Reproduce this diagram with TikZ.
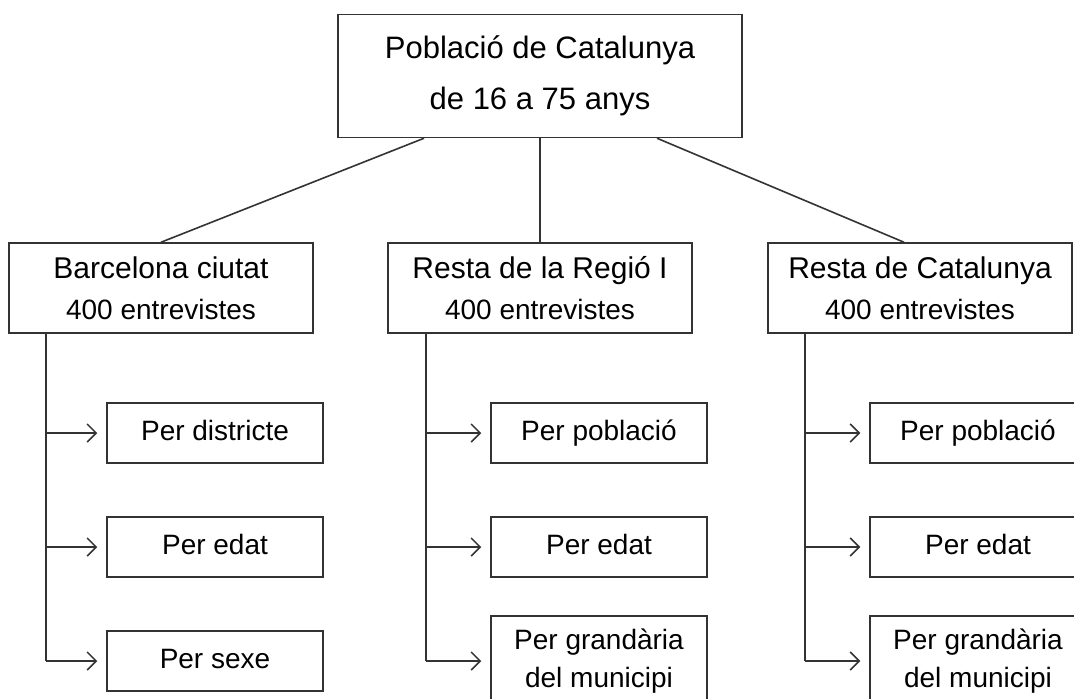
\documentclass[tikz,border=0pt]{standalone}
\usepackage{fontspec}
\setmainfont{Liberation Sans}
\usetikzlibrary{calc,arrows.meta}

\tikzset{
	box/.style={draw=black!80, line width=1.5pt, align=center, inner sep=0pt},
	topbox/.style={box, minimum width=404pt, minimum height=123pt, font=\fontsize{31}{51}\selectfont},
	zonebox/.style={box, minimum width=304pt, minimum height=90pt, font=\fontsize{30}{41}\selectfont},
	subbox/.style={box, minimum width=216pt, minimum height=60pt, font=\fontsize{28}{38}\selectfont},
	onebox/.style={subbox, text height=21pt, text depth=7pt},
	link/.style={draw=black!80, line width=1.6pt},
	branch/.style={link, -{Straight Barb[length=9pt,width=18pt,line width=1.5pt]}, shorten >=9pt}
}

\begin{document}
\begin{tikzpicture}[x=1pt,y=-1pt]
		%%%%% START %%%%%
		
		\useasboundingbox (0, 0) rectangle (1074, 699);
		\clip (0, 0) rectangle (1074, 699);
		
		\node[topbox] (top) at (540, 76) {Població de Catalunya\\de 16 a 75 anys};
		
		\node[zonebox] (bcn) at (161, 288) {Barcelona ciutat\\{\fontsize{28}{34}\selectfont 400 entrevistes}};
		\node[zonebox] (reg) at (540, 288) {Resta de la Regió I\\{\fontsize{28}{34}\selectfont 400 entrevistes}};
		\node[zonebox] (cat) at (920, 288) {Resta de Catalunya\\{\fontsize{28}{34}\selectfont 400 entrevistes}};
		
		\draw[link] ($(top.south)+(-116, 0)$) -- (bcn.north);
		\draw[link] (top.south) -- (reg.north);
		\draw[link] ($(top.south)+(117, 0)$) -- ($(cat.north)+(-16, 0)$);
		
		% Barcelona ciutat
		\node[onebox] (bcn1) at (215, 433) {Per districte};
		\node[onebox] (bcn2) at (215, 547) {Per edat};
		\node[onebox] (bcn3) at (215, 661) {Per sexe};
		\coordinate (bcnt) at ($(bcn.south west)+(38, 0)$);
		\draw[link] (bcnt) -- (bcnt |- bcn3.west);
		\foreach \k in {1,2,3}
			\draw[branch] (bcnt |- bcn\k.west) -- (bcn\k.west);
		
		% Resta de la Regio I
		\node[onebox] (reg1) at (599, 433) {Per població};
		\node[onebox] (reg2) at (599, 547) {Per edat};
		\node[subbox, minimum height=90pt] (reg3) at (599, 661) {Per grandària\\del municipi};
		\coordinate (regt) at ($(reg.south west)+(39, 0)$);
		\draw[link] (regt) -- (regt |- reg3.west);
		\foreach \k in {1,2,3}
			\draw[branch] (regt |- reg\k.west) -- (reg\k.west);
		
		% Resta de Catalunya
		\node[onebox] (cat1) at (978, 433) {Per població};
		\node[onebox] (cat2) at (978, 547) {Per edat};
		\node[subbox, minimum height=90pt] (cat3) at (978, 661) {Per grandària\\del municipi};
		\coordinate (catt) at ($(cat.south west)+(38, 0)$);
		\draw[link] (catt) -- (catt |- cat3.west);
		\foreach \k in {1,2,3}
			\draw[branch] (catt |- cat\k.west) -- (cat\k.west);
		
		%%%%% END %%%%%
	\end{tikzpicture}
\end{document}
